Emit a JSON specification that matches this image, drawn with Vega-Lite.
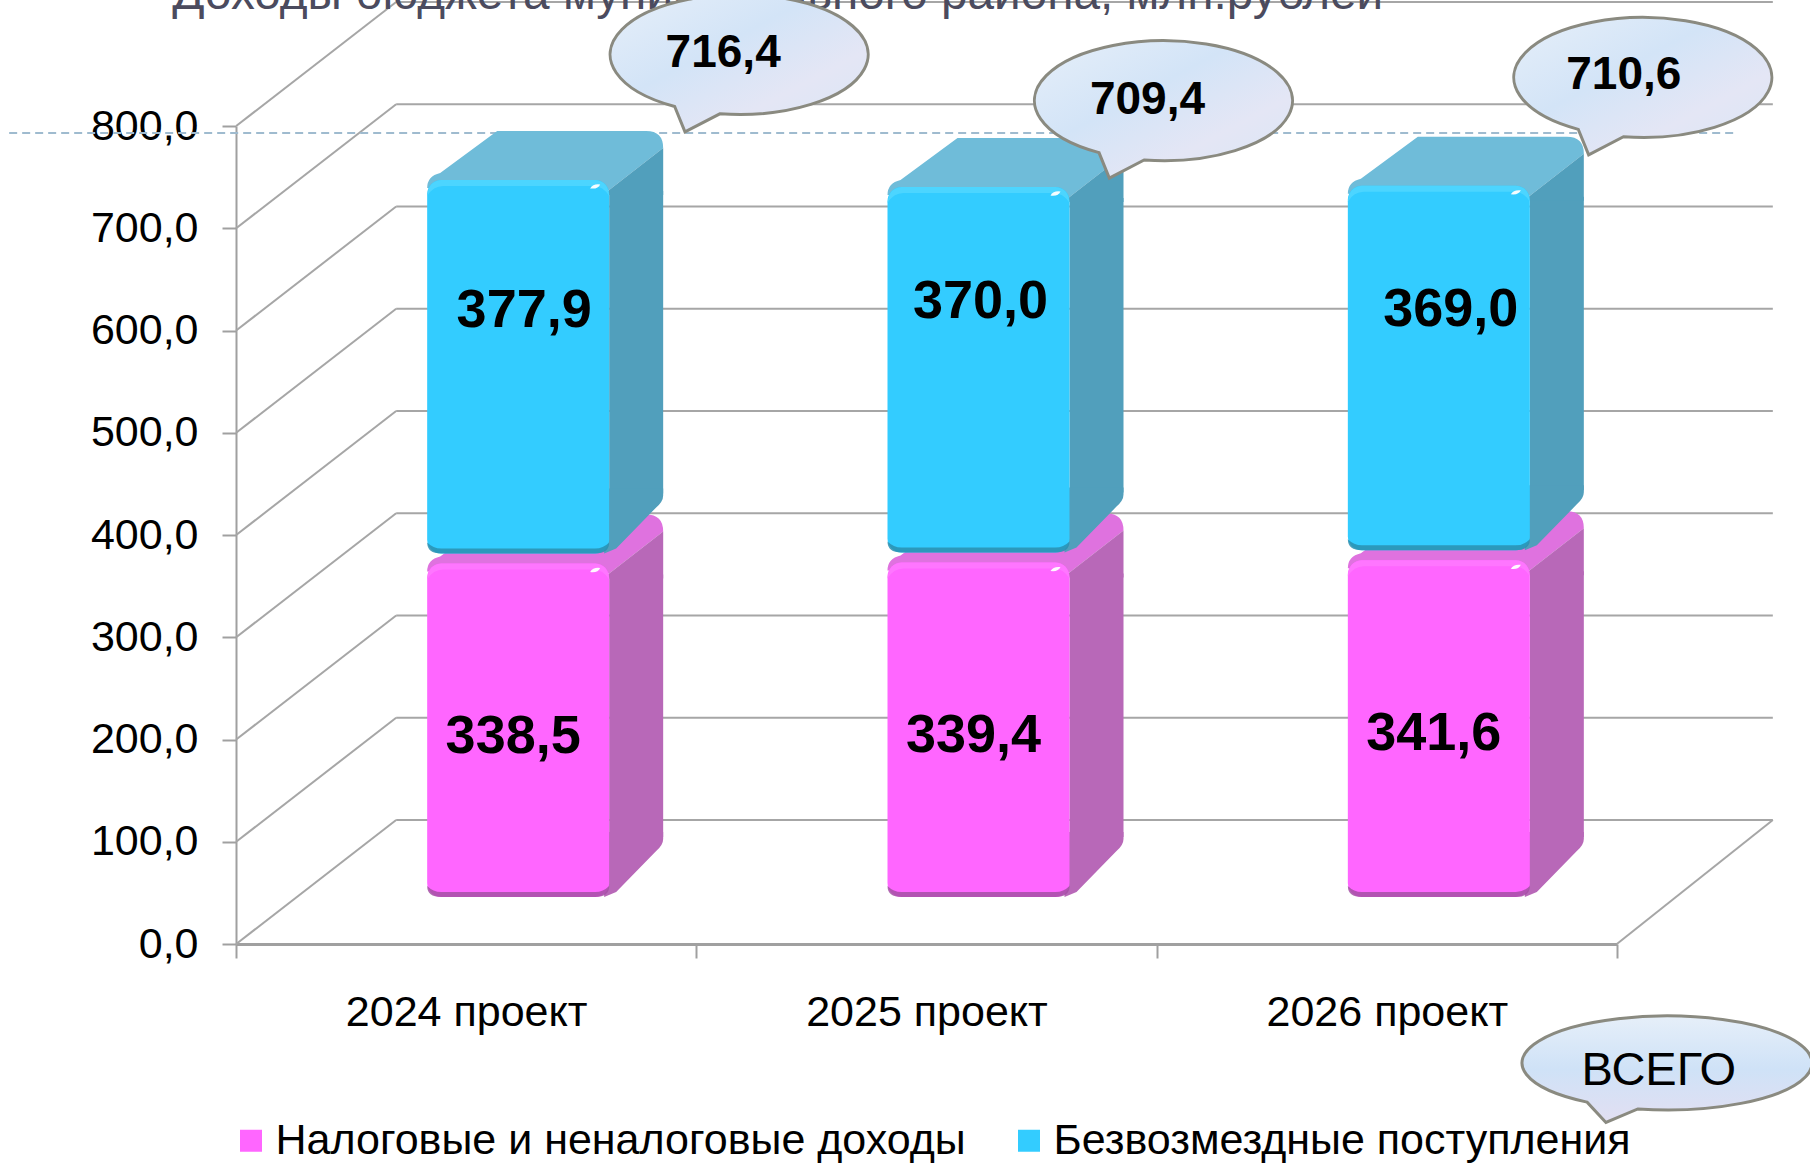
{"$schema":"https://vega.github.io/schema/vega-lite/v6.json","width":1381,"height":818,"autosize":"none","padding":{"left":236,"top":126,"right":193,"bottom":220},"background":"white",
"config":{"view":{"stroke":null},"font":"Liberation Sans","locale":{"number":{"decimal":",","thousands":" ","grouping":[3],"currency":["",""]}}},
"datasets":{"bars":[
{"year":"2024 проект","series":"Налоговые и неналоговые доходы","k":1,"value":338.5},
{"year":"2024 проект","series":"Безвозмездные поступления","k":2,"value":377.9},
{"year":"2025 проект","series":"Налоговые и неналоговые доходы","k":1,"value":339.4},
{"year":"2025 проект","series":"Безвозмездные поступления","k":2,"value":370.0},
{"year":"2026 проект","series":"Налоговые и неналоговые доходы","k":1,"value":341.6},
{"year":"2026 проект","series":"Безвозмездные поступления","k":2,"value":369.0}],
"ticks":[{"v":0},{"v":100},{"v":200},{"v":300},{"v":400},{"v":500},{"v":600},{"v":700},{"v":800}]},
"layer":[
{"data":{"name":"ticks"},"encoding":{"y":{"field":"v","type":"quantitative","scale":{"domain":[0,800]},"axis":{"values":[0,100,200,300,400,500,600,700,800],"format":".1f","grid":false,"title":null,"labelFontSize":43,"labelColor":"#000000","labelPadding":24,"tickSize":14,"tickColor":"#a0a0a0","tickWidth":2,"domainColor":"#a0a0a0","domainWidth":2}},"y2":{"field":"v"}},
"layer":[
{"mark":{"type":"rule","color":"#a6a6a6","strokeWidth":2,"xOffset":-230,"x2Offset":-70,"y2Offset":-124},"encoding":{"x":{"datum":"2024 проект","type":"nominal","scale":{"domain":["2024 проект","2025 проект","2026 проект"],"paddingInner":0,"paddingOuter":0},"axis":{"title":null,"labelAngle":0,"labelFontSize":43,"labelLimit":500,"labelColor":"#000000","labelPadding":33,"tickSize":14,"tickBand":"extent","tickColor":"#a0a0a0","tickWidth":2,"domainColor":"#a0a0a0","domainWidth":3}},"x2":{"datum":"2024 проект"}}},
{"mark":{"type":"rule","color":"#a6a6a6","strokeWidth":2,"xOffset":-70,"x2Offset":386,"yOffset":-124,"y2Offset":-124},"encoding":{"x":{"datum":"2024 проект","type":"nominal"},"x2":{"datum":"2026 проект"}}},
{"transform":[{"filter":"datum.v==0"}],"mark":{"type":"rule","color":"#a6a6a6","strokeWidth":2,"xOffset":230,"x2Offset":386,"y2Offset":-124},"encoding":{"x":{"datum":"2026 проект","type":"nominal"},"x2":{"datum":"2026 проект"}}},
{"transform":[{"filter":"datum.v==800"}],"mark":{"type":"rule","color":"#9fbbcf","strokeWidth":2,"strokeDash":[8,5],"xOffset":-457,"x2Offset":350,"yOffset":7,"y2Offset":7},"encoding":{"x":{"datum":"2024 проект","type":"nominal"},"x2":{"datum":"2026 проект"}}},
{"data":{"values":[{"v":800,"t":"Доходы бюджета муниципального района, млн.рублей"}]},"mark":{"type":"text","align":"left","baseline":"alphabetic","fontSize":47.7,"color":"#4b4b5e","xOffset":-294,"yOffset":-117},"encoding":{"x":{"datum":"2024 проект","type":"nominal"},"text":{"field":"t"}}}
]},
{"data":{"name":"bars"},"transform":[{"stack":"value","groupby":["year"],"sort":[{"field":"k","order":"ascending"}],"as":["y0","y1"]}],
"encoding":{"x":{"field":"year","type":"nominal"},"y":{"field":"y1","type":"quantitative","scale":{"domain":[0,806]},"axis":null}},
"layer":[
{"mark":{"type":"point","filled":true,"opacity":1,"size":10000,"shape":"M-1.82,0.36Q-1.82,0.12,-1.56,0.06L-0.42,-0.78L2.56,-0.78Q2.9,-0.78,2.9,-0.44L1.82,0.4Z","xOffset":52,"yOffset":-47},"encoding":{"fill":{"field":"k","type":"nominal","scale":{"domain":[1,2],"range":["#df72df","#6fbcd9"]},"legend":null}}},
{"mark":{"type":"bar","width":54,"xOffset":170,"x2Offset":170,"yOffset":-26,"y2Offset":-107},"encoding":{"y2":{"field":"y0"},"fill":{"field":"k","type":"nominal","scale":{"domain":[1,2],"range":["#b868b8","#519fbc"]},"legend":null}}},
{"mark":{"type":"point","filled":true,"opacity":1,"size":10000,"shape":"M-0.1,0.5L0,0.4L1.08,-0.44L1.08,0.5Z","xOffset":143,"yOffset":-47},"encoding":{"fill":{"field":"k","type":"nominal","scale":{"domain":[1,2],"range":["#b868b8","#519fbc"]},"legend":null}}},
{"mark":{"type":"point","filled":true,"opacity":1,"size":10000,"shape":"M-0.1,-1.3L1.08,-1.3L1.08,-1.16Q1.08,-1.04,0.94,-0.92L0.14,-0.1L-0.1,0Z","xOffset":143,"yOffset":-47},"encoding":{"y":{"field":"y0","type":"quantitative"},"fill":{"field":"k","type":"nominal","scale":{"domain":[1,2],"range":["#b868b8","#519fbc"]},"legend":null}}},
{"mark":{"type":"bar","width":182,"cornerRadius":14,"xOffset":52,"x2Offset":52,"yOffset":-37,"y2Offset":-47},"encoding":{"y2":{"field":"y0"},"color":{"field":"series","type":"nominal","scale":{"domain":["Налоговые и неналоговые доходы","Безвозмездные поступления"],"range":["#ff66ff","#33ccff"]},"legend":{"orient":"none","legendX":-6.5,"legendY":993,"direction":"horizontal","title":null,"symbolType":"square","symbolSize":484,"symbolStrokeWidth":0,"labelFontSize":43,"labelColor":"#000000","labelLimit":900,"columnPadding":41,"labelOffset":3}}}},
{"mark":{"type":"point","filled":true,"opacity":0.85,"size":10000,"shape":"M-1.82,-0.22Q-1.82,0,-1.54,0L1.54,0Q1.82,0,1.82,-0.22Q1.7,-0.1,1.54,-0.1L-1.54,-0.1Q-1.7,-0.1,-1.82,-0.22Z","xOffset":52,"yOffset":-47},"encoding":{"y":{"field":"y0","type":"quantitative"},"fill":{"field":"k","type":"nominal","scale":{"domain":[1,2],"range":["#a550a5","#2a8fb0"]},"legend":null}}},
{"mark":{"type":"point","filled":true,"opacity":0.9,"size":10000,"shape":"M-1.82,0.32Q-1.8,0.02,-1.54,0L1.54,0Q1.8,0.02,1.82,0.32Q1.7,0.12,1.5,0.12L-1.5,0.12Q-1.7,0.12,-1.82,0.32Z","xOffset":52,"yOffset":-37},"encoding":{"fill":{"field":"k","type":"nominal","scale":{"domain":[1,2],"range":["#ff78ff","#4fd6ff"]},"legend":null}}},
{"mark":{"type":"point","filled":true,"opacity":0.95,"size":100,"color":"#ffffff","shape":"M-1,0.3Q-0.4,-0.7,1,-0.5Q0.6,0.5,-1,0.3Z","xOffset":129,"yOffset":-30}}
],"resolve":{"scale":{"fill":"independent"}}},
{"data":{"name":"bars"},"transform":[{"stack":"value","groupby":["year"],"sort":[{"field":"k","order":"ascending"}],"as":["y0","y1"]}],
"encoding":{"x":{"field":"year","type":"nominal"},"y":{"field":"y1","type":"quantitative","scale":{"domain":[0,800]},"axis":null}},
"layer":[
{"transform":[{"filter":"datum.k==1"}],"mark":{"type":"text","fontSize":54,"fontWeight":"bold","color":"#000000","xOffset":47,"yOffset":139,"baseline":"middle"},"encoding":{"text":{"field":"value","format":".1f"}}},
{"transform":[{"filter":"datum.k==2 && datum.year=='2024 проект'"}],"mark":{"type":"text","fontSize":54,"fontWeight":"bold","color":"#000000","xOffset":58,"yOffset":100,"baseline":"middle"},"encoding":{"text":{"field":"value","format":".1f"}}},
{"transform":[{"filter":"datum.k==2 && datum.year=='2025 проект'"}],"mark":{"type":"text","fontSize":54,"fontWeight":"bold","color":"#000000","xOffset":54,"yOffset":83,"baseline":"middle"},"encoding":{"text":{"field":"value","format":".1f"}}},
{"transform":[{"filter":"datum.k==2 && datum.year=='2026 проект'"}],"mark":{"type":"text","fontSize":54,"fontWeight":"bold","color":"#000000","xOffset":64,"yOffset":93,"baseline":"middle"},"encoding":{"text":{"field":"value","format":".1f"}}},
{"transform":[{"filter":"datum.k==2 && datum.year=='2024 проект'"}],"mark":{"type":"point","filled":true,"opacity":1,"size":66564,"shape":"M-0.5,0.403A1,0.465,0,1,1,-0.15,0.46L-0.42,0.6Z","fill":{"gradient":"linear","x1":0,"y1":0,"x2":1,"y2":1,"stops":[{"offset":0,"color":"#e6eff9"},{"offset":0.4,"color":"#d3e4f7"},{"offset":0.7,"color":"#e4e6f5"},{"offset":1,"color":"#d9e6f6"}]},"stroke":"#8a8a80","strokeWidth":3,"xOffset":273,"yOffset":-157}},
{"transform":[{"filter":"datum.k==2 && datum.year=='2025 проект'"}],"mark":{"type":"point","filled":true,"opacity":1,"size":66564,"shape":"M-0.5,0.403A1,0.465,0,1,1,-0.15,0.46L-0.42,0.6Z","fill":{"gradient":"linear","x1":0,"y1":0,"x2":1,"y2":1,"stops":[{"offset":0,"color":"#e6eff9"},{"offset":0.4,"color":"#d3e4f7"},{"offset":0.7,"color":"#e4e6f5"},{"offset":1,"color":"#d9e6f6"}]},"stroke":"#8a8a80","strokeWidth":3,"xOffset":237,"yOffset":-118}},
{"transform":[{"filter":"datum.k==2 && datum.year=='2026 проект'"}],"mark":{"type":"point","filled":true,"opacity":1,"size":66564,"shape":"M-0.5,0.403A1,0.465,0,1,1,-0.15,0.46L-0.42,0.6Z","fill":{"gradient":"linear","x1":0,"y1":0,"x2":1,"y2":1,"stops":[{"offset":0,"color":"#e6eff9"},{"offset":0.4,"color":"#d3e4f7"},{"offset":0.7,"color":"#e4e6f5"},{"offset":1,"color":"#d9e6f6"}]},"stroke":"#8a8a80","strokeWidth":3,"xOffset":256,"yOffset":-140}},
{"transform":[{"filter":"datum.k==2 && datum.year=='2024 проект'"}],"mark":{"type":"text","fontSize":46,"fontWeight":"bold","color":"#000000","xOffset":257,"yOffset":-158,"baseline":"middle"},"encoding":{"text":{"field":"y1","format":".1f"}}},
{"transform":[{"filter":"datum.k==2 && datum.year=='2025 проект'"}],"mark":{"type":"text","fontSize":46,"fontWeight":"bold","color":"#000000","xOffset":221,"yOffset":-119,"baseline":"middle"},"encoding":{"text":{"field":"y1","format":".1f"}}},
{"transform":[{"filter":"datum.k==2 && datum.year=='2026 проект'"}],"mark":{"type":"text","fontSize":46,"fontWeight":"bold","color":"#000000","xOffset":237,"yOffset":-142,"baseline":"middle"},"encoding":{"text":{"field":"y1","format":".1f"}}},
{"data":{"values":[{"year":"2026 проект","y1":0,"t":"ВСЕГО"}]},"mark":{"type":"point","filled":true,"opacity":1,"size":84100,"shape":"M-0.55,0.27A1,0.324,0,1,1,-0.2,0.317L-0.42,0.41Z","fill":{"gradient":"linear","x1":0,"y1":0,"x2":0,"y2":1,"stops":[{"offset":0,"color":"#e6eff9"},{"offset":0.5,"color":"#cfe2f7"},{"offset":1,"color":"#e2dff2"}]},"stroke":"#8a8a80","strokeWidth":3,"xOffset":280,"yOffset":119}},
{"data":{"values":[{"year":"2026 проект","y1":0,"t":"ВСЕГО"}]},"mark":{"type":"text","fontSize":47,"color":"#000000","xOffset":272,"yOffset":127,"baseline":"middle"},"encoding":{"text":{"field":"t"}}}
]}
],"resolve":{"scale":{"y":"independent"}}}
